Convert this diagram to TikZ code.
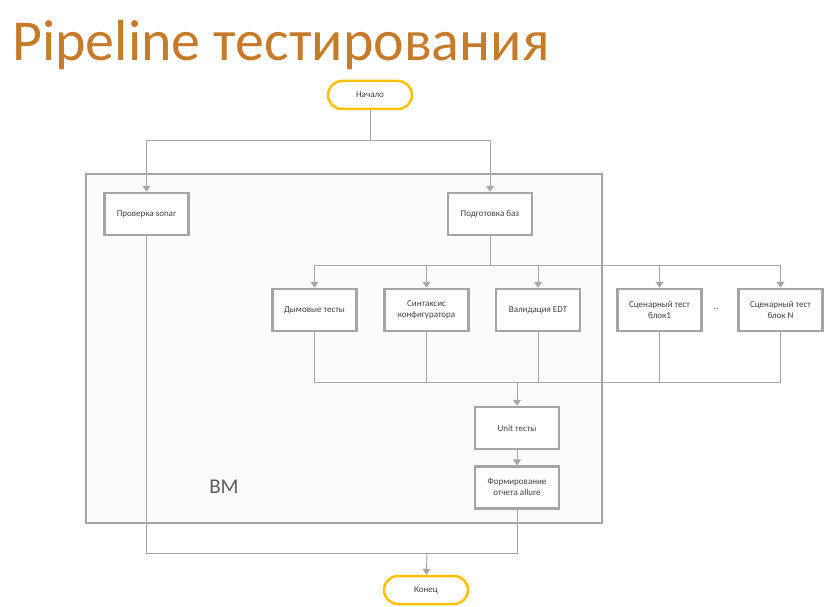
\documentclass[tikz,border=0pt]{standalone}
\usepackage{fontspec}
\setmainfont{Carlito}
\usetikzlibrary{arrows.meta}
\definecolor{boxgray}{HTML}{A5A5A5}
\definecolor{linegray}{HTML}{A6A6A6}
\definecolor{pillgold}{HTML}{FFC000}
\definecolor{titleorange}{HTML}{C67B2A}
\definecolor{textgray}{HTML}{404040}
\definecolor{vmfill}{HTML}{FAFBFB}
\begin{document}
\begin{tikzpicture}[x=1pt, y=-1pt,
        stepbox/.style={draw=boxgray, line width=2.5pt, fill=white, minimum width=84pt, minimum height=42pt,
            align=center, font=\fontsize{9}{11}\selectfont, text=textgray},
        pill/.style={draw=pillgold, line width=2.5pt, fill=white, rounded corners=14pt, minimum width=84pt,
            minimum height=28pt, font=\fontsize{9}{11}\selectfont, text=textgray},
        link/.style={draw=linegray, line width=1pt},
        flow/.style={link, -{Triangle[width=8pt, length=6pt]}}]
    \useasboundingbox (0,0) rectangle (824,607);
    \node[anchor=base west, text=titleorange, font=\fontsize{58}{60}\selectfont, inner sep=0pt] (title) at (12,61) {Pipeline тестирования};
    % VM frame
    \draw[draw=boxgray, line width=2.5pt, fill=vmfill] (86,174) rectangle (602,523);
    \node[text=textgray!85, font=\fontsize{21}{24}\selectfont] (vm) at (224,487) {ВМ};
    % nodes
    \node[pill] (start) at (370,95) {Начало};
    \node[stepbox] (sonar) at (146.5,214) {Проверка sonar};
    \node[stepbox] (prep) at (490,214) {Подготовка баз};
    \node[stepbox] (smoke) at (314.5,310) {Дымовые тесты};
    \node[stepbox] (syntax) at (426.5,310) {Синтаксис\\конфигуратора};
    \node[stepbox] (edt) at (538,310) {Валидация EDT};
    \node[stepbox] (blk1) at (659.5,310) {Сценарный тест\\блок1};
    \node[stepbox] (blkN) at (780.5,310) {Сценарный тест\\блок N};
    \node[text=textgray, font=\fontsize{9}{11}\selectfont] (dots) at (716,309) {..};
    \node[stepbox] (unit) at (517,428) {Unit тесты};
    \node[stepbox] (report) at (517,487.5) {Формирование\\отчета allure};
    \node[pill] (end) at (426,590) {Конец};
    % connectors
    \coordinate (split1) at (370,140);
    \coordinate (split2) at (490,265);
    \coordinate (join) at (517,382);
    \coordinate (merge) at (427,553);
    \draw[link] (start) -- (split1);
    \draw[flow] (split1) -| (sonar);
    \draw[flow] (split1) -| (prep);
    \draw[link] (prep) -- (split2);
    \foreach \n in {smoke,syntax,edt,blk1,blkN}
        \draw[flow] (split2) -| (\n);
    \foreach \n in {smoke,syntax,edt,blk1,blkN}
        \draw[link] (\n) |- (join);
    \draw[flow] (join) -- (unit);
    \draw[flow] (unit) -- (report);
    \draw[link] (sonar) |- (merge);
    \draw[link] (report) |- (merge);
    \draw[flow] (merge) -- (end);
\end{tikzpicture}
\end{document}
